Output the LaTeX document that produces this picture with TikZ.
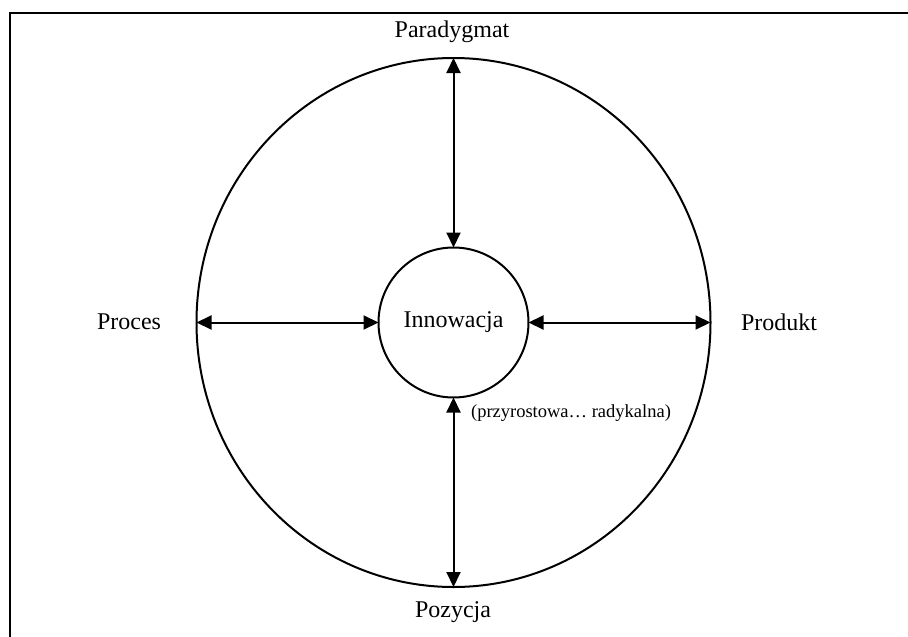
\documentclass[tikz,border=0pt]{standalone}
\usepackage{fontspec}
\setmainfont{Liberation Serif}
\usetikzlibrary{arrows.meta,shapes.geometric}
\begin{document}
\begin{tikzpicture}[x=1pt,y=-1pt,
  lw/.style={line width=2pt},
  lbl/.style={font=\fontsize{24}{26}\selectfont, inner sep=0pt},
  smalllbl/.style={font=\fontsize{18.5}{21}\selectfont, inner sep=0pt},
  dbl/.style={lw, {Triangle[length=15pt,width=14pt]}-{Triangle[length=15pt,width=14pt]}}]
\useasboundingbox (0,0) rectangle (908,637);
\coordinate (fa) at (10,637);
\coordinate (fb) at (10,13);
\coordinate (fc) at (908,13);
\draw[lw] (fa) -- (fb) -- (fc);
\node[draw, lw, ellipse, minimum width=514pt, minimum height=529pt, inner sep=0pt, outer sep=0pt] (outer) at (453.5,322.5) {};
\node[draw, lw, circle, minimum size=150pt, inner sep=0pt, outer sep=0pt, lbl] (inner) at (453.5,322.5) {Innowacja};
\draw[dbl] (inner.north) -- (outer.north);
\draw[dbl] (inner.south) -- (outer.south);
\draw[dbl] (inner.west) -- (outer.west);
\draw[dbl] (inner.east) -- (outer.east);
\node[lbl] (par) at (452,32) {Paradygmat};
\node[lbl] (proc) at (129,322) {Proces};
\node[lbl] (prod) at (779,322) {Produkt};
\node[lbl] (poz) at (453,612) {Pozycja};
\node[smalllbl] (rad) at (571,413) {(przyrostowa… radykalna)};
\end{tikzpicture}
\end{document}
